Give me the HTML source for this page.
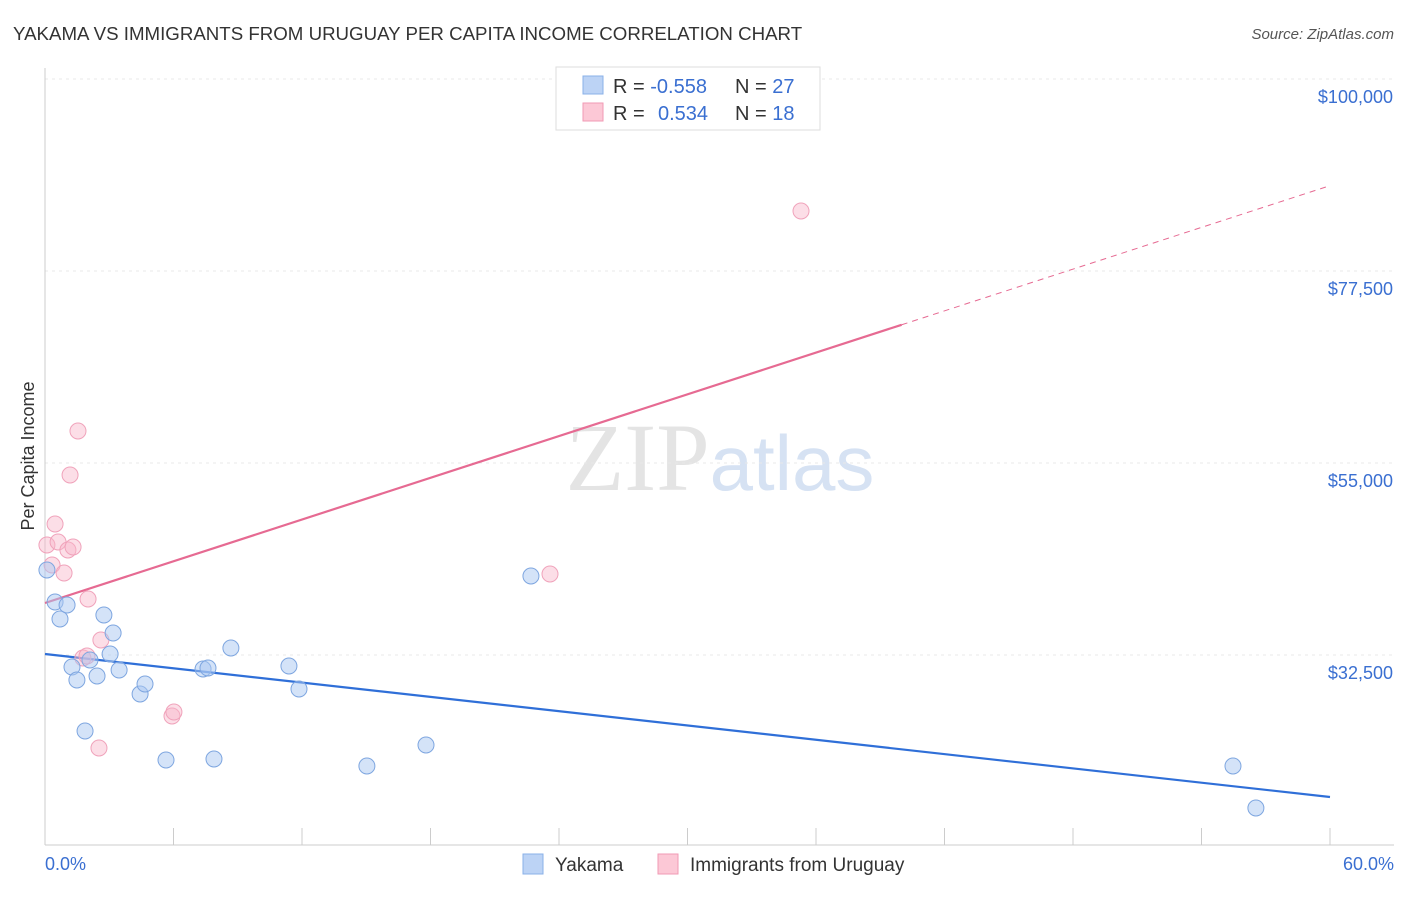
<!DOCTYPE html>
<html><head><meta charset="utf-8"><style>
body{margin:0;background:#fff;font-family:"Liberation Sans",sans-serif;}
</style></head><body>
<svg id="chart" width="1406" height="892" xmlns="http://www.w3.org/2000/svg" font-family="Liberation Sans, sans-serif">
<text x="13" y="40" font-size="18.7" fill="#333">YAKAMA VS IMMIGRANTS FROM URUGUAY PER CAPITA INCOME CORRELATION CHART</text>
<text x="1394" y="39" font-size="15" fill="#555" text-anchor="end" font-style="italic">Source: ZipAtlas.com</text>
<text x="720" y="490" font-size="96" text-anchor="middle" fill="#e4e4e4" font-family="Liberation Serif, serif">ZIP<tspan fill="#d6e2f3" font-family="Liberation Sans, sans-serif" font-size="78">atlas</tspan></text>
<text transform="translate(34,456) rotate(-90)" font-size="18" fill="#333" text-anchor="middle">Per Capita Income</text>
<g id="grid"></g><g id="trends"></g><g id="pts"></g>
<g>
<rect x="556" y="67" width="264" height="63" fill="#fff" stroke="#ddd"/>
<rect x="583" y="76" width="20" height="18" fill="#bcd3f5" stroke="#8ab0e8"/>
<rect x="583" y="103" width="20" height="18" fill="#fcc8d6" stroke="#f19ab4"/>
<text x="613" y="93" font-size="20" fill="#333">R = <tspan fill="#3a6fd1">-0.558</tspan></text>
<text x="735" y="93" font-size="20" fill="#333">N = <tspan fill="#3a6fd1">27</tspan></text>
<text x="613" y="120" font-size="20" fill="#333">R = <tspan fill="#3a6fd1" x="658">0.534</tspan></text>
<text x="735" y="120" font-size="20" fill="#333">N = <tspan fill="#3a6fd1">18</tspan></text>
</g>
<g>
<rect x="523" y="854" width="20" height="20" fill="#bcd3f5" stroke="#8ab0e8"/>
<text x="555" y="871" font-size="19" fill="#333">Yakama</text>
<rect x="658" y="854" width="20" height="20" fill="#fcc8d6" stroke="#f19ab4"/>
<text x="690" y="871" font-size="19" fill="#333">Immigrants from Uruguay</text>
</g>
</svg>
<script>
const yTicks=[32500,55000,77500,100000];
const yTickLabels=["$32,500","$55,000","$77,500","$100,000"];
const xTickLabels=["0.0%","60.0%"];
const yakamaX=[0.09,0.47,0.70,1.03,1.26,1.49,1.87,2.10,2.43,2.75,3.04,3.18,3.46,4.44,4.67,5.65,7.38,7.61,7.89,8.68,11.39,11.86,15.03,17.79,22.69,55.47,56.54];
const yakamaY=[42461,38711,36719,38359,31094,29570,23594,31914,30039,37188,32617,35078,30742,27930,29102,20195,30859,30977,20313,33320,31211,28516,19492,21953,41758,19492,14570];
const uruguayX=[0.09,0.33,0.47,0.61,0.89,1.07,1.17,1.31,1.54,1.77,1.96,2.01,2.52,2.61,5.93,6.02,23.58,35.30];
const uruguayY=[45391,43047,47852,45742,42109,44805,53594,45156,58750,32148,32383,39063,21602,34258,25352,25820,41992,84531];
const yakamaTrend=[32617,15859];
const uruguayTrend=[38594,87500];
const NS="http://www.w3.org/2000/svg";
const X=v=>45+v/60*1285;
const Y=v=>655-(v-32500)*192/22500;
function mk(tag,attrs,parent){const e=document.createElementNS(NS,tag);for(const k in attrs)e.setAttribute(k,attrs[k]);document.getElementById(parent).appendChild(e);return e;}
yTicks.forEach((t,i)=>{
 const l=mk('line',{x1:45,x2:1394,y1:Y(t),y2:Y(t),stroke:'#e8e8e8','stroke-dasharray':'3,4'},'grid');
 
 
 const tx=mk('text',{x:1393,y:Y(t)+24,'font-size':18,fill:'#3a6fd1','text-anchor':'end'},'grid');
 tx.textContent=yTickLabels[i];
 
 
});
const ax=mk('line',{x1:45,x2:45,y1:68,y2:845,stroke:'#ccc'},'grid');


const bx=mk('line',{x1:45,x2:1394,y1:845,y2:845,stroke:'#ccc'},'grid');


for(let i=0;i<=10;i++){const t=mk('line',{x1:X(i*6),x2:X(i*6),y1:828,y2:845,stroke:'#ccc'},'grid');
 
 }
[[0,'start',45],[60,'end',1394]].forEach((a,i)=>{const t=mk('text',{x:a[2],y:870,'font-size':18,fill:'#3a6fd1','text-anchor':a[1]},'grid');t.textContent=xTickLabels[i];
 
 });
const bt=mk('line',{x1:X(0),y1:Y(yakamaTrend[0]),x2:X(60),y2:Y(yakamaTrend[1]),stroke:'#2f6fd8','stroke-width':2.2},'trends');


const pAt=x=>uruguayTrend[0]+(uruguayTrend[1]-uruguayTrend[0])*x/60;
const pt=mk('line',{x1:X(0),y1:Y(pAt(0)),x2:X(40),y2:Y(pAt(40)),stroke:'#e66a92','stroke-width':2.2},'trends');


const pd=mk('line',{x1:X(40),y1:Y(pAt(40)),x2:X(60),y2:Y(pAt(60)),stroke:'#e66a92','stroke-width':1,'stroke-dasharray':'6,5'},'trends');


uruguayX.forEach((x,i)=>{const c=mk('circle',{cx:X(x),cy:Y(uruguayY[i]),r:8,fill:'rgba(248,182,202,0.45)',stroke:'#f0a3bb','stroke-width':1},'pts');
 
 });
yakamaX.forEach((x,i)=>{const c=mk('circle',{cx:X(x),cy:Y(yakamaY[i]),r:8,fill:'rgba(170,200,242,0.5)',stroke:'#7ea6e0','stroke-width':1},'pts');
 
 });
</script>
</body></html>
